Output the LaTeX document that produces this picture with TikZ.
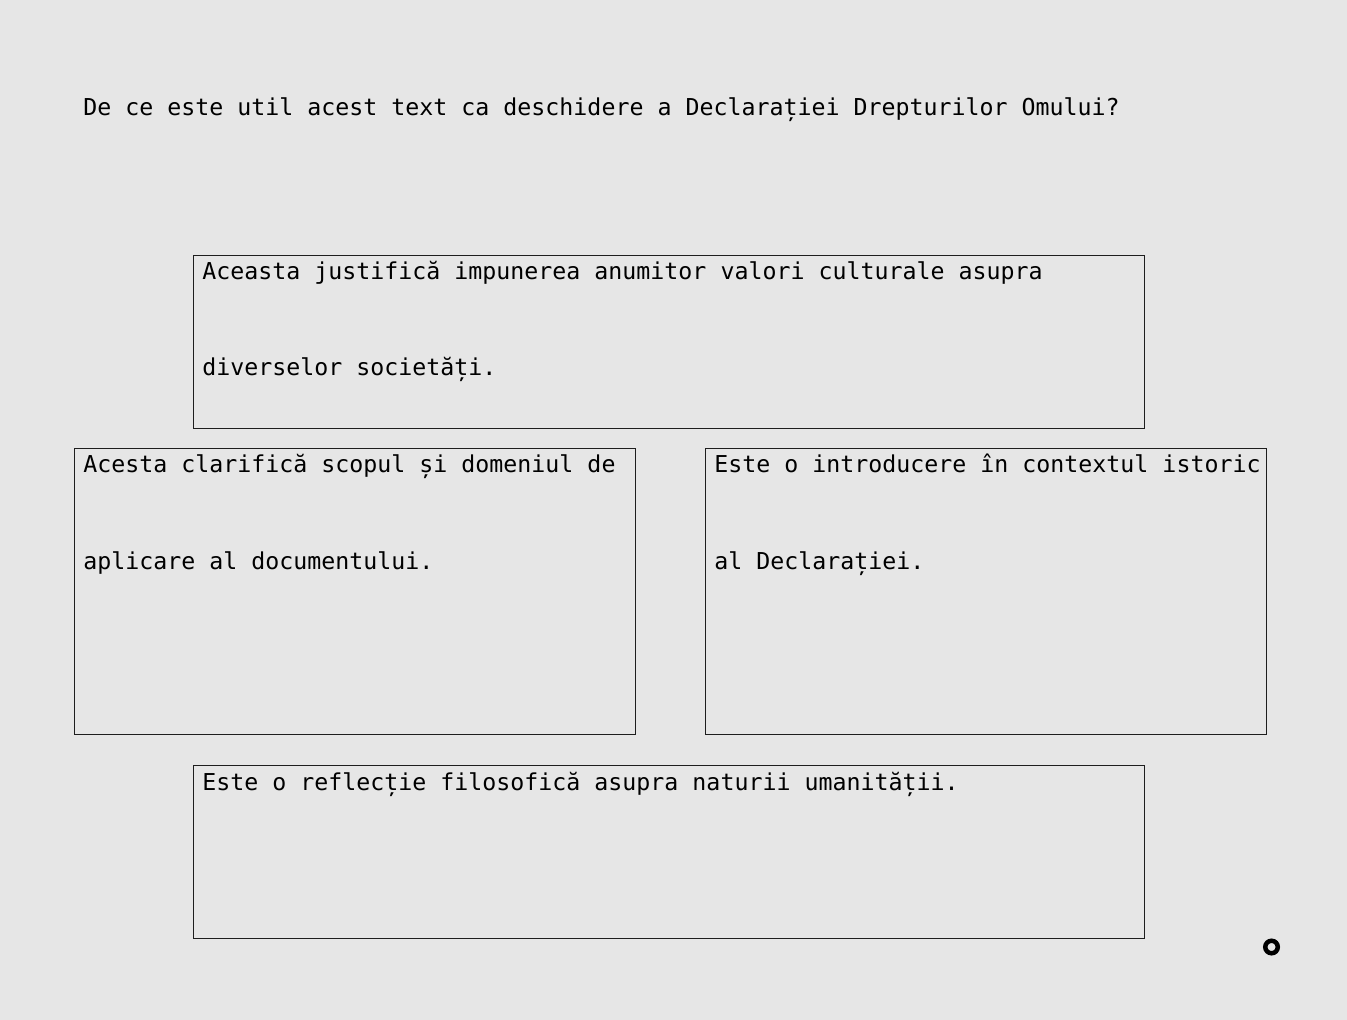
\documentclass[tikz,border=0pt]{standalone}
\usepackage{fontspec}
\newfontfamily\monofont{DejaVu Sans Mono}
\definecolor{pagegray}{RGB}{230,230,230}
\definecolor{inkgray}{RGB}{30,30,30}

\begin{document}
\begin{tikzpicture}[x=0.5pt, y=-0.5pt,
    answerbox/.style={rectangle, draw=inkgray, line width=0.5pt, anchor=north west, inner sep=0pt},
    answertext/.style={anchor=base west, inner sep=0pt, align=left, text=black,
        font=\monofont\fontsize{11.63}{48}\selectfont}
]
    \fill[pagegray] (0,0) rectangle (1347,1020);
    \useasboundingbox (0,0) rectangle (1347,1020);

    \node[answertext] (question) at (83,116) {De ce este util acest text ca deschidere a Declarației Drepturilor Omului?};

    \node[answerbox, minimum width=475.5pt, minimum height=86.5pt] (optA) at (193,255) {};
    \node[answerbox, minimum width=280.5pt, minimum height=143pt] (optB) at (74,448) {};
    \node[answerbox, minimum width=280.5pt, minimum height=143pt] (optC) at (705,448) {};
    \node[answerbox, minimum width=475.5pt, minimum height=86.5pt] (optD) at (193,765) {};

    % base anchor sits on the last line, so two-line texts go one line lower
    \node[answertext] (textA) at ([shift={(9,121)}]optA.north west) {Aceasta justifică impunerea anumitor valori culturale asupra\\diverselor societăți.};
    \node[answertext] (textB) at ([shift={(9,121)}]optB.north west) {Acesta clarifică scopul și domeniul de\\aplicare al documentului.};
    \node[answertext] (textC) at ([shift={(9,121)}]optC.north west) {Este o introducere în contextul istoric\\al Declarației.};
    \node[answertext] (textD) at ([shift={(9,25)}]optD.north west) {Este o reflecție filosofică asupra naturii umanității.};

    \node[circle, draw=black, line width=2.25pt, inner sep=0pt, minimum size=6.25pt] (dot) at (1271.5,947) {};
\end{tikzpicture}
\end{document}
